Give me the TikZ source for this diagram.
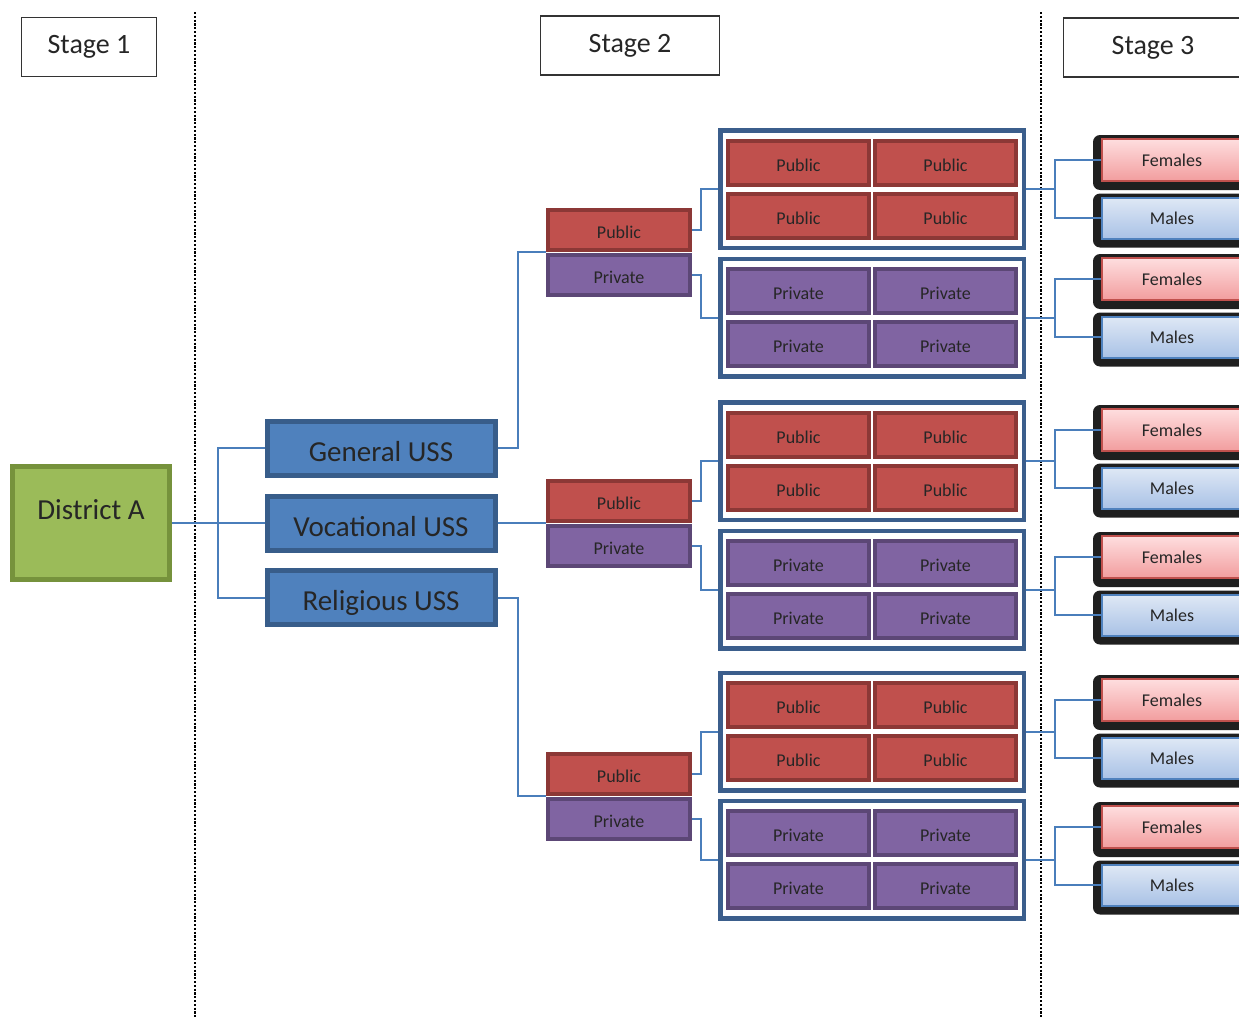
\documentclass[tikz,border=0pt]{standalone}
\usepackage{xcolor}
\usepackage{fontspec}
\setmainfont{Carlito}
\usepackage{tikz}
\usetikzlibrary{positioning, backgrounds}

\definecolor{linkblue}{HTML}{4A7EBB}
\definecolor{ussfill}{HTML}{4F81BD}
\definecolor{ussdraw}{HTML}{385D8A}
\definecolor{distfill}{HTML}{9BBB59}
\definecolor{distdraw}{HTML}{76923C}
\definecolor{pubfill}{HTML}{C0504D}
\definecolor{pubdraw}{HTML}{8C3836}
\definecolor{privfill}{HTML}{8064A2}
\definecolor{privdraw}{HTML}{5C4776}
\definecolor{framedraw}{HTML}{3B5E8C}
\definecolor{femtop}{HTML}{FEDEDF}
\definecolor{fembot}{HTML}{F29D9E}
\definecolor{maltop}{HTML}{DFE8F5}
\definecolor{malbot}{HTML}{A9C2E6}
\definecolor{inktext}{HTML}{262626}

\begin{document}
\begin{tikzpicture}[x=1pt,y=-1pt]
    \tikzset{stagebox/.style = {draw=black!80, line width=1.2pt, minimum width=135pt, minimum height=59pt, text=inktext, font=\fontsize{28}{30}\selectfont}}
    \tikzset{bigtext/.style = {text=inktext, font=\fontsize{29}{31}\selectfont}}
    \tikzset{district/.style = {draw=distdraw, fill=distfill, line width=5pt, minimum width=157pt, minimum height=113pt}}
    \tikzset{uss/.style = {bigtext, draw=ussdraw, fill=ussfill, line width=5pt, minimum width=228pt, minimum height=54pt, text height=26pt, text depth=0pt}}
    \tikzset{smalltext/.style = {text=inktext, font=\fontsize{18}{20}\selectfont, text height=17pt, text depth=0pt}}
    \tikzset{pubsmall/.style = {smalltext, draw=pubdraw, fill=pubfill, line width=4pt, minimum width=142pt, minimum height=40pt}}
    \tikzset{privsmall/.style = {smalltext, draw=privdraw, fill=privfill, line width=4pt, minimum width=142pt, minimum height=40pt}}
    \tikzset{pubcell/.style = {pubsmall, minimum width=141pt, minimum height=44pt}}
    \tikzset{privcell/.style = {privsmall, minimum width=141pt, minimum height=44pt}}
    \tikzset{frame/.style = {draw=framedraw, fill=white, line width=4.5pt, minimum width=303.5pt, minimum height=117.5pt}}
    \tikzset{female/.style = {smalltext, text height=13.5pt, draw=pubfill, top color=femtop, bottom color=fembot, line width=2pt, minimum width=140pt, minimum height=42pt}}
    \tikzset{male/.style = {smalltext, text height=13.5pt, draw=ussfill, top color=maltop, bottom color=malbot, line width=2pt, minimum width=140pt, minimum height=41pt}}
    \tikzset{shadowfill/.style = {fill=black!88, rounded corners=7pt}}
    \tikzset{link/.style = {draw=linkblue, line width=2pt}}
    \tikzset{divider/.style = {line width=2.6pt, dash pattern=on 2.2pt off 1.6pt}}
    \useasboundingbox (0,0) rectangle (1239,1017);
    % stages
    \node[stagebox] (st1) at (89,47) {Stage 1};
    \node[stagebox, minimum width=179pt] (st2) at (630,45.5) {Stage 2};
    \node[stagebox, minimum width=179pt] (st3) at (1153,47.5) {Stage 3};
    \draw[divider] (195,12) -- (195,1017);
    \draw[divider] (1041,12) -- (1041,1017);
    % stage 1
    \node[district] (dist) at (91,523) {};
    \node[bigtext] (distlbl) at (91,510) {District A};
    \node[uss] (gen) at (381,448) {General USS};
    \node[uss] (voc) at (381,523) {Vocational USS};
    \node[uss] (rel) at (381,597.5) {Religious USS};
    % stage 2
    \node[pubsmall] (pub1) at (619,230) {Public};
    \node[privsmall] (priv1) at (619,275) {Private};
    \node[pubsmall] (pub2) at (619,501) {Public};
    \node[privsmall] (priv2) at (619,546) {Private};
    \node[pubsmall] (pub3) at (619,773.5) {Public};
    \node[privsmall] (priv3) at (619,818.5) {Private};
    \foreach \g/\ya/\yb in {1/189/317.5, 2/461/589.5, 3/731.5/859.5} {
        \node[frame] (fpub\g) at (872,\ya) {};
        \node[pubcell] (pa\g) at (798.5,\ya-26.5) {Public};
        \node[pubcell] (pb\g) at (945.5,\ya-26.5) {Public};
        \node[pubcell] (pc\g) at (798.5,\ya+26.5) {Public};
        \node[pubcell] (pd\g) at (945.5,\ya+26.5) {Public};
        \node[frame] (fpriv\g) at (872,\yb) {};
        \node[privcell] (qa\g) at (798.5,\yb-26.5) {Private};
        \node[privcell] (qb\g) at (945.5,\yb-26.5) {Private};
        \node[privcell] (qc\g) at (798.5,\yb+26.5) {Private};
        \node[privcell] (qd\g) at (945.5,\yb+26.5) {Private};
    }
    % stage 3
    \foreach \r/\yf/\ym in {1/160/218, 2/279/337, 3/430/488, 4/557/615, 5/700/758, 6/827/885} {
        \node[female] (fem\r) at (1172,\yf) {Females};
        \node[male] (mal\r) at (1172,\ym) {Males};
    }
    \begin{scope}[on background layer]
        \foreach \r in {1,...,6} {
            \fill[shadowfill] ([shift={(-8pt,3pt)}]fem\r.north west) rectangle ([shift={(8pt,-8pt)}]fem\r.south east);
            \fill[shadowfill] ([shift={(-8pt,3pt)}]mal\r.north west) rectangle ([shift={(8pt,-8pt)}]mal\r.south east);
        }
    \end{scope}
    %edges
    \draw[link] (dist.east) -- (voc.west);
    \draw[link] (gen.west) -- ++(-47,0) |- (rel.west);
    \draw[link] (gen.east) -- ++(20,0) |- (pub1.south west);
    \draw[link] (voc.east) -- (pub2.south west);
    \draw[link] (rel.east) -- ++(20,0) |- (pub3.south west);
    \foreach \g in {1,2,3} {
        \draw[link] (pub\g.east) -- ++(9,0) |- (fpub\g.west);
        \draw[link] (priv\g.east) -- ++(9,0) |- (fpriv\g.west);
    }
    \foreach \r/\f in {1/fpub1, 2/fpriv1, 3/fpub2, 4/fpriv2, 5/fpub3, 6/fpriv3} {
        \draw[link] (\f.east) -- ++(29,0) |- (fem\r.west);
        \draw[link] (\f.east) ++(29,0) |- (mal\r.west);
    }
\end{tikzpicture}
\end{document}
